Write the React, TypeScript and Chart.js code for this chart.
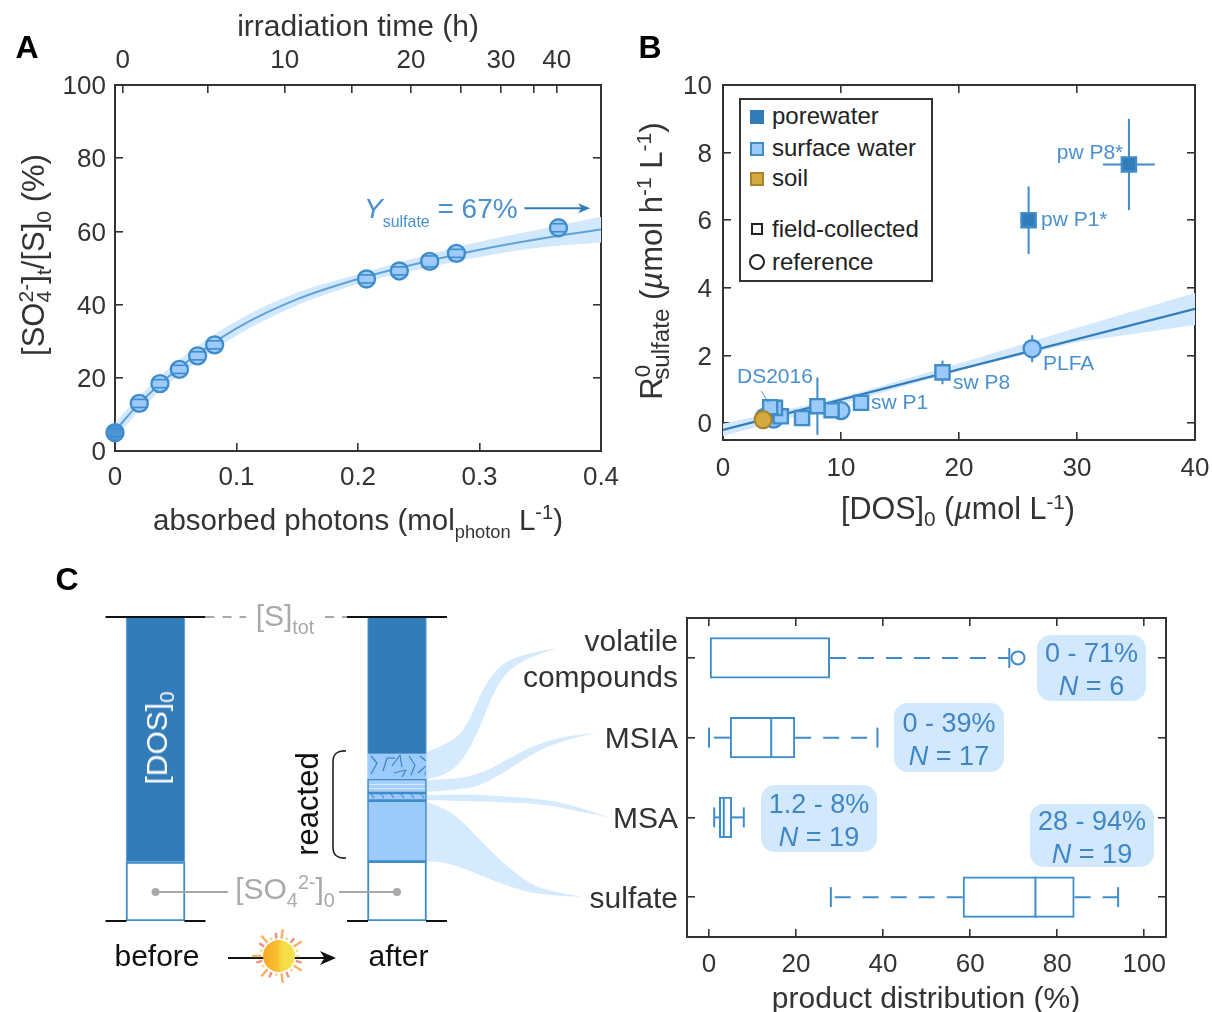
import React, { useEffect, useRef } from 'react';
import { Chart, registerables } from 'chart.js';

Chart.register(...registerables);

const FONT = '"Liberation Sans", Arial, sans-serif';
Chart.defaults.font.family = FONT;

// ---------- Panel A data
const photons = [0, 0.02, 0.037, 0.053, 0.068, 0.082, 0.207, 0.234, 0.259, 0.281, 0.365];
const sulfatePct = [5, 13, 18.4, 22.3, 26, 29, 47, 49.2, 51.8, 54, 61];
const sulfateErr = [1.1, 1.1, 1.1, 1.1, 1.1, 1.1, 1.1, 1.1, 1.5, 1.1, 1.1];
const fitPhotons = [0, 0.02, 0.05, 0.1, 0.15, 0.2, 0.25, 0.3, 0.35, 0.4];
const fitPct = [5.5, 13, 22, 33.5, 41.5, 47, 51.3, 55, 58, 60.5];
const fitPctUpper = [7.6, 15, 24.2, 35.5, 43.3, 48.3, 53, 57.2, 60.6, 64];
const fitPctLower = [3.4, 11, 20, 31.5, 39.8, 45.6, 49.6, 53, 55.6, 57];
const aXTicks = [0, 0.1, 0.2, 0.3, 0.4];
const aYTicks = [0, 20, 40, 60, 80, 100];
const timeTickPhotons = [0.0063, 0.0765, 0.1397, 0.1947, 0.2436, 0.2844, 0.3177, 0.3447, 0.3635];
const timeTickLabels = ['0', '', '10', '', '20', '', '30', '', '40'];

// ---------- Panel B data
const poreX = [34.4, 25.9];
const poreY = [7.65, 6.0];
const poreErrX = [2.2, 0.7];
const poreErrY = [1.35, 1.0];
const surfX = [18.6, 11.7, 9.2, 8, 6.7, 4.9, 4.4, 4];
const surfY = [1.5, 0.6, 0.38, 0.5, 0.15, 0.2, 0.45, 0.47];
const surfErrY = [0.35, 0, 0, 0.85, 0, 0, 0, 0];
const refX = [26.2, 10, 4.3, 3.5];
const refY = [2.2, 0.37, 0.12, 0.17];
const refErrY = [0.4, 0, 0, 0];
const soilX = [3.4];
const soilY = [0.1];
const lineX = [0, 40];
const lineY = [-0.2, 3.38];
const bandX = [0, 10, 20, 30, 40];
const bandUpper = [-0.02, 0.76, 1.76, 2.82, 3.85];
const bandLower = [-0.38, 0.56, 1.55, 2.4, 2.9];
const bXTicks = [0, 10, 20, 30, 40];
const bYTicks = [0, 2, 4, 6, 8, 10];

// ---------- Panel C data
const products = [['volatile', 'compounds'], 'MSIA', 'MSA', 'sulfate'];
const wLow = [0, 0, 1.2, 28];
const q1 = [0, 4.8, 2.3, 58.3];
const median = [0, 14.3, 3.4, 75];
const q3 = [27.8, 19.8, 5.3, 84];
const wHigh = [69, 38.7, 8, 94];
const outliers = [71, null, null, null];
const cXTicks = [0, 20, 40, 60, 80, 100];

const columns = ['before', 'after'];
const initialSulfate = [19.4, 19.6];
const productSulfate = [null, 20];
const productMSA = [null, 2.5];
const productMSIA = [null, 4.5];
const productVolatile = [null, 8.3];
const remainingDOS = [80.6, 45.1];

// ---------- Colours
const AX = '#333333';
const DARK = '#317cb9';
const MID = '#3f8ccb';
const LIGHT = '#9ccbfb';
const BAND = '#d2e8fd';
const FITLINE = '#5ea2d8';
const LABEL = '#4a90cf';
const GRAY = '#a9a9a9';
const GOLD = '#d4a93f';
const GOLDB = '#a98428';

const pts = (xs: number[], ys: number[]) => xs.map((x, i) => ({ x, y: ys[i] }));

const pin = (size: number) => (s: any) => {
  if (s.isHorizontal()) s.height = size;
  else s.width = size;
  s.paddingLeft = s.paddingRight = s.paddingTop = s.paddingBottom = 0;
};
const setTicks = (vals: number[]) => (s: any) => {
  s.ticks = vals.map((value) => ({ value }));
};

function axis(position: string, size: number, extra: any = {}) {
  const { ticks, grid, ...rest } = extra;
  return {
    position,
    afterFit: pin(size),
    border: { display: true, color: AX, width: 2 },
    grid: { drawOnChartArea: false, drawTicks: true, tickLength: -8, color: AX, lineWidth: 1.6, ...(grid || {}) },
    ticks: {
      color: AX,
      font: { size: 26 },
      maxRotation: 0,
      minRotation: 0,
      autoSkip: false,
      ...(ticks || {}),
    },
    ...rest,
  };
}

const errorBars = {
  id: 'errorBars',
  beforeDatasetDraw(chart: any, args: any) {
    const ds = chart.data.datasets[args.index];
    if (!ds.errX && !ds.errY) return;
    const { ctx, scales } = chart;
    ctx.save();
    ctx.strokeStyle = ds.errColor || MID;
    ctx.lineWidth = 2;
    ds.data.forEach((p: any, i: number) => {
      const x = scales.x.getPixelForValue(p.x);
      const y = scales.y.getPixelForValue(p.y);
      if (ds.errY && ds.errY[i]) {
        ctx.beginPath();
        ctx.moveTo(x, scales.y.getPixelForValue(p.y + ds.errY[i]));
        ctx.lineTo(x, scales.y.getPixelForValue(p.y - ds.errY[i]));
        ctx.stroke();
      }
      if (ds.errX && ds.errX[i]) {
        ctx.beginPath();
        ctx.moveTo(scales.x.getPixelForValue(p.x - ds.errX[i]), y);
        ctx.lineTo(scales.x.getPixelForValue(p.x + ds.errX[i]), y);
        ctx.stroke();
      }
    });
    ctx.restore();
  },
  afterDatasetDraw(chart: any, args: any) {
    const ds = chart.data.datasets[args.index];
    if (!ds.capY) return;
    const { ctx, scales } = chart;
    ctx.save();
    ctx.strokeStyle = MID;
    ctx.lineWidth = 1.6;
    ds.data.forEach((p: any, i: number) => {
      const x = scales.x.getPixelForValue(p.x);
      [p.y + ds.capY[i], p.y - ds.capY[i]].forEach((v) => {
        const y = scales.y.getPixelForValue(v);
        ctx.beginPath();
        ctx.moveTo(x - 8, y);
        ctx.lineTo(x + 8, y);
        ctx.stroke();
      });
    });
    ctx.restore();
  },
};

function arrowHead(ctx: any, x: number, y: number, len: number, half: number, color: string) {
  ctx.fillStyle = color;
  ctx.beginPath();
  ctx.moveTo(x, y);
  ctx.lineTo(x - len, y - half);
  ctx.lineTo(x - len * 0.72, y);
  ctx.lineTo(x - len, y + half);
  ctx.closePath();
  ctx.fill();
}

const aArrow = {
  id: 'aArrow',
  afterDatasetsDraw(chart: any) {
    const { ctx, scales } = chart;
    const x1 = scales.x.getPixelForValue(0.337);
    const x2 = scales.x.getPixelForValue(0.391);
    const y = scales.y.getPixelForValue(66.3);
    ctx.save();
    ctx.strokeStyle = DARK;
    ctx.lineWidth = 2;
    ctx.beginPath();
    ctx.moveTo(x1, y);
    ctx.lineTo(x2 - 6, y);
    ctx.stroke();
    arrowHead(ctx, x2, y, 12, 5, DARK);
    ctx.restore();
  },
};

const bLeader = {
  id: 'bLeader',
  afterDatasetsDraw(chart: any) {
    const { ctx, scales } = chart;
    ctx.save();
    ctx.strokeStyle = LABEL;
    ctx.lineWidth = 1;
    ctx.beginPath();
    ctx.moveTo(scales.x.getPixelForValue(3.25), scales.y.getPixelForValue(0.95));
    ctx.lineTo(scales.x.getPixelForValue(3.85), scales.y.getPixelForValue(0.6));
    ctx.stroke();
    ctx.restore();
  },
};

const boxWhiskers = {
  id: 'boxWhiskers',
  afterDatasetsDraw(chart: any) {
    const { ctx, scales } = chart;
    ctx.save();
    ctx.strokeStyle = MID;
    ctx.lineWidth = 2;
    products.forEach((_, i) => {
      const y = scales.y.getPixelForValue(i);
      const px = (v: number) => scales.x.getPixelForValue(v);
      const seg = (a: number, b: number) => {
        ctx.beginPath();
        ctx.moveTo(a, y);
        ctx.lineTo(b, y);
        ctx.stroke();
      };
      ctx.setLineDash([16, 12]);
      if (wLow[i] < q1[i]) seg(px(q1[i]), px(wLow[i]));
      seg(px(q3[i]), px(wHigh[i]));
      ctx.setLineDash([]);
      const cap = (v: number) => {
        ctx.beginPath();
        ctx.moveTo(px(v), y - 10);
        ctx.lineTo(px(v), y + 10);
        ctx.stroke();
      };
      if (wLow[i] < q1[i]) cap(wLow[i]);
      cap(wHigh[i]);
      if (median[i] > q1[i]) {
        const h = 20.5;
        ctx.beginPath();
        ctx.moveTo(px(median[i]), y - h);
        ctx.lineTo(px(median[i]), y + h);
        ctx.stroke();
      }
      const o = outliers[i];
      if (o != null) {
        ctx.beginPath();
        ctx.arc(px(o), y, 6.5, 0, Math.PI * 2);
        ctx.stroke();
      }
    });
    ctx.restore();
  },
};

function smoothPath(ctx: any, p: number[][], start: boolean) {
  if (start) ctx.moveTo(p[0][0], p[0][1]);
  else ctx.lineTo(p[0][0], p[0][1]);
  for (let i = 1; i < p.length - 1; i++) {
    const mx = (p[i][0] + p[i + 1][0]) / 2;
    const my = (p[i][1] + p[i + 1][1]) / 2;
    ctx.quadraticCurveTo(p[i][0], p[i][1], mx, my);
  }
  const l = p[p.length - 1];
  ctx.lineTo(l[0], l[1]);
}

const OFFY = 560;
const off = (p: number[][]) => p.map(([x, y]) => [x, y - OFFY]);
const streams = [
  {
    top: [[427, 752], [445, 745], [461, 734], [472, 715], [482, 690], [500, 664], [525, 654], [557, 648]],
    bottom: [[427, 779], [442, 776], [458, 766], [470, 748], [482, 722], [497, 684], [519, 660], [557, 648]],
  },
  {
    top: [[427, 780], [455, 779], [480, 774], [505, 761], [530, 747], [560, 737], [595, 733]],
    bottom: [[427, 792], [455, 790], [480, 786], [505, 772], [530, 755], [560, 741], [595, 733]],
  },
  {
    top: [[427, 795], [465, 794], [500, 796], [540, 799], [569, 804], [611, 818]],
    bottom: [[427, 800], [465, 801], [500, 802], [540, 804], [569, 809], [611, 818]],
  },
  {
    top: [[427, 802], [445, 808], [461, 820], [480, 840], [500, 860], [520, 877], [540, 889], [582, 897]],
    bottom: [[427, 861], [442, 862], [460, 867], [480, 875], [510, 887], [540, 895], [582, 897]],
  },
];

const barDecor = {
  id: 'barDecor',
  beforeDatasetsDraw(chart: any) {
    const { ctx } = chart;
    ctx.save();
    ctx.fillStyle = '#d6eafe';
    streams.forEach((s) => {
      ctx.beginPath();
      smoothPath(ctx, off(s.top), true);
      smoothPath(ctx, off([...s.bottom].reverse()), false);
      ctx.closePath();
      ctx.fill();
    });
    ctx.restore();
  },
  afterDatasetsDraw(chart: any) {
    const { ctx, scales } = chart;
    const yT = scales.y.getPixelForValue(100);
    const yB = scales.y.getPixelForValue(0);
    const cB = scales.x.getPixelForValue(0);
    const cA = scales.x.getPixelForValue(1);
    ctx.save();
    // limits
    ctx.strokeStyle = '#111';
    ctx.lineWidth = 2;
    [cB, cA].forEach((c) => {
      ctx.beginPath();
      ctx.moveTo(c - 50, yT);
      ctx.lineTo(c + 50, yT);
      ctx.moveTo(c - 50, yB);
      ctx.lineTo(c - 29, yB);
      ctx.moveTo(c + 29, yB);
      ctx.lineTo(c + 50, yB);
      ctx.stroke();
    });
    // dashed guide
    ctx.strokeStyle = GRAY;
    ctx.setLineDash([9, 8]);
    ctx.beginPath();
    ctx.moveTo(cB + 50, yT);
    ctx.lineTo(246, yT);
    ctx.moveTo(325, yT);
    ctx.lineTo(cA - 50, yT);
    ctx.stroke();
    ctx.setLineDash([]);
    // sulfate guide
    const yS = scales.y.getPixelForValue(9.5);
    ctx.lineWidth = 2;
    ctx.beginPath();
    ctx.moveTo(cB, yS);
    ctx.lineTo(228, yS);
    ctx.moveTo(339, yS);
    ctx.lineTo(cA, yS);
    ctx.stroke();
    ctx.fillStyle = GRAY;
    [cB, cA].forEach((c) => {
      ctx.beginPath();
      ctx.arc(c, yS, 4, 0, Math.PI * 2);
      ctx.fill();
    });
    // brace
    ctx.strokeStyle = '#222';
    ctx.lineWidth = 1.6;
    ctx.beginPath();
    const bx = 333;
    ctx.moveTo(bx + 13, 751 - OFFY);
    ctx.quadraticCurveTo(bx, 750 - OFFY, bx, 762 - OFFY);
    ctx.lineTo(bx, 847 - OFFY);
    ctx.quadraticCurveTo(bx, 859 - OFFY, bx + 13, 858 - OFFY);
    ctx.stroke();
    // process arrow
    const ay = 958 - OFFY;
    ctx.strokeStyle = '#111';
    ctx.lineWidth = 2;
    ctx.beginPath();
    ctx.moveTo(228, ay);
    ctx.lineTo(328, ay);
    ctx.stroke();
    arrowHead(ctx, 336, ay, 16, 7, '#111');
    // sun
    const sx = 279;
    const sy = 956 - OFFY;
    for (let i = 0; i < 22; i++) {
      const a = (i / 22) * Math.PI * 2;
      const r2 = 20 + (i % 3) * 3.5;
      ctx.strokeStyle = i % 3 === 1 ? '#ee8f86' : i % 3 === 2 ? '#f6b261' : '#f8d77a';
      ctx.lineWidth = 2.4;
      ctx.beginPath();
      ctx.moveTo(sx + Math.cos(a) * 17.5, sy + Math.sin(a) * 17.5);
      ctx.lineTo(sx + Math.cos(a) * r2, sy + Math.sin(a) * r2);
      ctx.stroke();
    }
    const g = ctx.createLinearGradient(sx - 16, sy, sx + 16, sy);
    g.addColorStop(0, '#f8a92a');
    g.addColorStop(0.45, '#f9bf30');
    g.addColorStop(0.6, '#f5dc45');
    g.addColorStop(1, '#f3e24f');
    ctx.fillStyle = g;
    ctx.beginPath();
    ctx.arc(sx, sy, 16, 0, Math.PI * 2);
    ctx.fill();
    ctx.restore();
  },
};

function makePattern(w: number, h: number, x0: number, y0: number, draw: (c: CanvasRenderingContext2D) => void) {
  const c = document.createElement('canvas');
  c.width = w;
  c.height = h;
  const g = c.getContext('2d') as CanvasRenderingContext2D;
  draw(g);
  const main = document.createElement('canvas').getContext('2d') as CanvasRenderingContext2D;
  const pat = main.createPattern(c, 'repeat') as CanvasPattern;
  pat.setTransform(new DOMMatrix().translate(x0, y0));
  return pat;
}

const Sub = ({ children, size = 0.68, top = 0.35, ml = 0 }: any) => (
  <span style={{ fontSize: `${size}em`, position: 'relative', top: `${top}em`, marginLeft: `${ml}em` }}>{children}</span>
);
const Sup = ({ children, size = 0.68, top = -0.5, ml = 0 }: any) => (
  <span style={{ fontSize: `${size}em`, position: 'relative', top: `${top}em`, marginLeft: `${ml}em` }}>{children}</span>
);

const T = ({ x, y, children, size = 30, color = AX, rot = 0, anchor = 'center', bold = false, align = 'center' }: any) => (
  <div
    style={{
      position: 'absolute',
      left: x,
      top: y,
      transform: `translate(${anchor === 'center' ? '-50%' : anchor === 'right' ? '-100%' : '0'},-50%) rotate(${rot}deg)`,
      fontFamily: FONT,
      fontSize: size,
      color,
      whiteSpace: 'nowrap',
      lineHeight: 1,
      fontWeight: bold ? 700 : 400,
      textAlign: align,
    }}
  >
    {children}
  </div>
);

const Callout = ({ x1, x2, y1, y2, a, b }: any) => (
  <div
    style={{
      position: 'absolute',
      left: x1,
      top: y1,
      width: x2 - x1,
      height: y2 - y1,
      boxSizing: 'border-box',
      paddingTop: 4,
      background: BAND,
      borderRadius: 14,
      color: '#3f86c4',
      fontFamily: FONT,
      fontSize: 27,
      textAlign: 'center',
      lineHeight: '33px',
      display: 'flex',
      flexDirection: 'column',
      justifyContent: 'center',
      whiteSpace: 'nowrap',
    }}
  >
    <div>{a}</div>
    <div>
      <i>N</i> = {b}
    </div>
  </div>
);

const Swatch = ({ y, fill, border, round = false, size = 13, w = 2 }: any) => (
  <div
    style={{
      position: 'absolute',
      left: 756.5 - size / 2,
      top: y - size / 2,
      width: size,
      height: size,
      boxSizing: 'border-box',
      background: fill,
      border: `${w}px solid ${border}`,
      borderRadius: round ? '50%' : 0,
    }}
  />
);

export default function App() {
  const a = useRef<HTMLCanvasElement>(null);
  const b = useRef<HTMLCanvasElement>(null);
  const c1 = useRef<HTMLCanvasElement>(null);
  const c2 = useRef<HTMLCanvasElement>(null);

  useEffect(() => {
    const base = {
      responsive: false,
      animation: false,
      devicePixelRatio: 1,
      events: [],
      plugins: { legend: { display: false }, tooltip: { enabled: false } },
    };

    const chartA = new Chart(a.current as any, {
      type: 'line',
      data: {
        datasets: [
          {
            data: pts(photons, sulfatePct),
            capY: sulfateErr,
            showLine: false,
            pointStyle: 'circle',
            pointRadius: 8.5,
            pointBackgroundColor: photons.map((_, i) => (i === 0 ? '#4a95d8' : LIGHT)),
            pointBorderColor: MID,
            pointBorderWidth: 2.4,
            clip: false,
          },
          { data: pts(fitPhotons, fitPct), borderColor: FITLINE, borderWidth: 2, pointRadius: 0, cubicInterpolationMode: 'monotone', fill: false },
          { data: pts(fitPhotons, fitPctUpper), borderWidth: 0, borderColor: 'transparent', pointRadius: 0, cubicInterpolationMode: 'monotone', fill: '+1', backgroundColor: BAND },
          { data: pts(fitPhotons, fitPctLower), borderWidth: 0, borderColor: 'transparent', pointRadius: 0, cubicInterpolationMode: 'monotone', fill: false },
        ],
      } as any,
      options: {
        ...base,
        layout: { padding: { right: 19 } },
        scales: {
          x: axis('bottom', 99, { type: 'linear', min: 0, max: 0.4, afterBuildTicks: setTicks(aXTicks), ticks: { padding: 19.5, callback: (v: any) => String(v) } }),
          x2: axis('top', 85, {
            type: 'linear',
            min: 0,
            max: 0.4,
            afterBuildTicks: setTicks(timeTickPhotons),
            ticks: { padding: 16.4, callback: (_: any, i: number) => timeTickLabels[i] },
          }),
          y: axis('left', 115, { type: 'linear', min: 0, max: 100, afterBuildTicks: setTicks(aYTicks), ticks: { padding: 17, labelOffset: 2, callback: (v: any) => String(v) } }),
          y2: axis('right', 0, { type: 'linear', min: 0, max: 100, afterBuildTicks: setTicks(aYTicks), ticks: { display: false } }),
        },
      } as any,
      plugins: [errorBars, aArrow] as any,
    });

    const square = (fill: string, border: string) => ({
      showLine: false,
      pointStyle: 'rect',
      pointRadius: 10,
      pointBackgroundColor: fill,
      pointBorderColor: border,
      pointBorderWidth: 2.4,
      clip: false,
    });
    const chartB = new Chart(b.current as any, {
      type: 'line',
      data: {
        datasets: [
          { data: pts(soilX, soilY), showLine: false, pointStyle: 'circle', pointRadius: 8.5, pointBackgroundColor: GOLD, pointBorderColor: GOLDB, pointBorderWidth: 2.2 },
          { data: pts(poreX, poreY), errX: poreErrX, errY: poreErrY, errColor: MID, ...square(DARK, MID) },
          { data: pts(surfX, surfY), errY: surfErrY, ...square(LIGHT, MID) },
          { data: pts(refX, refY), errY: refErrY, showLine: false, pointStyle: 'circle', pointRadius: 8.5, pointBackgroundColor: LIGHT, pointBorderColor: MID, pointBorderWidth: 2.4 },
          { data: pts(lineX, lineY), borderColor: DARK, borderWidth: 2.2, pointRadius: 0, fill: false },
          { data: pts(bandX, bandUpper), borderWidth: 0, borderColor: 'transparent', pointRadius: 0, fill: '+1', backgroundColor: BAND },
          { data: pts(bandX, bandLower), borderWidth: 0, borderColor: 'transparent', pointRadius: 0, fill: false },
        ],
      } as any,
      options: {
        ...base,
        layout: { padding: { right: 17 } },
        scales: {
          x: axis('bottom', 110, { type: 'linear', min: 0, max: 40, afterBuildTicks: setTicks(bXTicks), ticks: { padding: 21.4, callback: (v: any) => String(v) } }),
          x2: axis('top', 85, { type: 'linear', min: 0, max: 40, afterBuildTicks: setTicks(bXTicks), ticks: { display: false } }),
          y: axis('left', 103, { type: 'linear', min: -0.5, max: 10, afterBuildTicks: setTicks(bYTicks), ticks: { padding: 19, labelOffset: 2, callback: (v: any) => String(v) } }),
          y2: axis('right', 0, { type: 'linear', min: -0.5, max: 10, afterBuildTicks: setTicks(bYTicks), ticks: { display: false } }),
        },
      } as any,
      plugins: [errorBars, bLeader] as any,
    });

    const volatilePattern = makePattern(62, 27, 368, 192, (g) => {
      g.fillStyle = LIGHT;
      g.fillRect(0, 0, 62, 27);
      g.strokeStyle = '#3a84c4';
      g.lineWidth = 1.2;
      const segs = [
        [3, 4, 9, 11], [9, 11, 3, 22], [15, 19, 19, 6], [19, 6, 27, 6], [24, 14, 32, 3], [32, 3, 34, 15],
        [26, 21, 38, 18], [38, 18, 34, 25], [41, 4, 47, 13], [47, 13, 43, 23], [50, 21, 58, 14], [52, 4, 58, 9], [57, 23, 61, 11],
      ];
      segs.forEach(([x1, y1, x2, y2]) => {
        g.beginPath();
        g.moveTo(x1, y1);
        g.lineTo(x2, y2);
        g.stroke();
      });
    });
    const linesPattern = makePattern(8, 4, 368, 220, (g) => {
      g.fillStyle = '#a5cff8';
      g.fillRect(0, 0, 8, 4);
      g.fillStyle = '#d8e9fb';
      g.fillRect(0, 0, 8, 1);
    });
    const hatchPattern = makePattern(10, 8, 368, 232, (g) => {
      g.fillStyle = LIGHT;
      g.fillRect(0, 0, 10, 8);
      g.strokeStyle = '#3a84c4';
      g.lineWidth = 1.1;
      g.beginPath();
      g.moveTo(2, 1);
      g.lineTo(6, 6);
      g.stroke();
    });

    const seg = (data: any, backgroundColor: any, borderColor: string, borderWidth = 1.6) => ({
      data,
      backgroundColor,
      borderColor,
      borderWidth,
      borderSkipped: false,
      barThickness: 59,
      stack: 'S',
    });
    const chartC1 = new Chart(c1.current as any, {
      type: 'bar',
      data: {
        labels: columns,
        datasets: [
          seg(initialSulfate, '#ffffff', MID, 2),
          seg(productSulfate, LIGHT, MID),
          seg(productMSA, hatchPattern, MID),
          seg(productMSIA, linesPattern, MID),
          seg(productVolatile, volatilePattern, LIGHT, 1),
          seg(remainingDOS, DARK, '#7fb4e0', 1),
        ],
      } as any,
      options: {
        ...base,
        layout: { padding: { top: 57, right: 172.25 } },
        scales: {
          x: {
            position: 'bottom',
            stacked: true,
            afterFit: pin(91),
            border: { display: false },
            grid: { display: false },
            ticks: { color: '#111', font: { size: 30 }, padding: 10.5, labelOffset: 1.5, maxRotation: 0, minRotation: 0 },
          },
          y: {
            position: 'left',
            stacked: true,
            min: 0,
            max: 100,
            afterFit: pin(34.75),
            border: { display: false },
            grid: { display: false },
            ticks: { display: false },
          },
        },
      } as any,
      plugins: [barDecor] as any,
    });

    const chartC2 = new Chart(c2.current as any, {
      type: 'bar',
      data: {
        labels: products,
        datasets: [
          {
            data: q1.map((v, i) => [v, q3[i]]),
            backgroundColor: 'rgba(255,255,255,0)',
            borderColor: MID,
            borderWidth: 2,
            borderSkipped: false,
            barPercentage: 0.52,
            categoryPercentage: 1,
          },
        ],
      } as any,
      options: {
        ...base,
        indexAxis: 'y',
        layout: { padding: { right: 46 } },
        scales: {
          x: axis('bottom', 75, { type: 'linear', min: -5.05, max: 105, afterBuildTicks: setTicks(cXTicks), ticks: { padding: 20.4, callback: (v: any) => String(v) } }),
          x2: axis('top', 18, { type: 'linear', min: -5.05, max: 105, afterBuildTicks: setTicks(cXTicks), ticks: { display: false } }),
          y: axis('left', 207, { type: 'category', grid: { offset: false }, ticks: { padding: 17, labelOffset: 2.5, font: { size: 30, lineHeight: 1.2 } } }),
          y2: axis('right', 0, { type: 'category', labels: ['a', 'b', 'c', 'd'], offset: true, grid: { offset: false }, ticks: { display: false } }),
        },
      } as any,
      plugins: [boxWhiskers] as any,
    });

    return () => {
      chartA.destroy();
      chartB.destroy();
      chartC1.destroy();
      chartC2.destroy();
    };
  }, []);

  const cv = (left: number, top: number): React.CSSProperties => ({ position: 'absolute', left, top, display: 'block' });

  return (
    <div style={{ position: 'absolute', left: 0, top: 0, width: 1212, height: 1012, overflow: 'hidden', background: '#fff' }}>
      <canvas ref={c1} width={690} height={452} style={cv(0, 560)} />
      <canvas ref={c2} width={732} height={412} style={cv(480, 600)} />
      <canvas ref={a} width={620} height={550} style={cv(0, 0)} />
      <canvas ref={b} width={592} height={550} style={cv(620, 0)} />

      <T x={27} y={47} size={32} bold color="#000">A</T>
      <T x={650} y={47} size={32} bold color="#000">B</T>
      <T x={67} y={579} size={32} bold color="#000">C</T>

      {/* Panel A */}
      <T x={358} y={26} size={30}>irradiation time (h)</T>
      <T x={358} y={520} size={29.5}>
        absorbed photons (mol<Sub size={0.62} top={0.45}>photon</Sub> L<Sup top={-0.55}>-1</Sup>)
      </T>
      <T x={33} y={255} size={31} rot={-90}>
        [SO<Sub>4</Sub><Sup ml={-0.55}>2-</Sup>]<Sub>t</Sub>/[S]<Sub>0</Sub> (%)
      </T>
      <T x={364} y={209} size={28} anchor="left" color={LABEL}>
        <i>Y</i><Sub size={0.57} top={0.55}>sulfate</Sub> = 67%
      </T>

      {/* Panel B */}
      <T x={958} y={508} size={30.5}>
        [DOS]<Sub>0</Sub> (<i>µ</i>mol L<Sup>-1</Sup>)
      </T>
      <T x={651} y={261} size={31} rot={-90}>
        R<Sup size={0.72} top={-0.55}>0</Sup><Sub size={0.78} top={0.3} ml={-0.62}>sulfate</Sub> (<i>µ</i>mol h<Sup>-1</Sup> L<Sup>-1</Sup>)
      </T>
      <T x={1090} y={151} size={21} color={LABEL}>pw P8*</T>
      <T x={1041} y={218} size={21} anchor="left" color={LABEL}>pw P1*</T>
      <T x={1043} y={362} size={21} anchor="left" color={LABEL}>PLFA</T>
      <T x={953} y={381} size={21} anchor="left" color={LABEL}>sw P8</T>
      <T x={871} y={401} size={21} anchor="left" color={LABEL}>sw P1</T>
      <T x={737} y={375} size={21} anchor="left" color={LABEL}>DS2016</T>
      <div style={{ position: 'absolute', left: 739, top: 98, width: 194, height: 184, boxSizing: 'border-box', border: `2px solid ${AX}`, background: '#fff' }} />
      <Swatch y={117} fill={DARK} border={DARK} size={14} />
      <Swatch y={149} fill={LIGHT} border={MID} size={14} />
      <Swatch y={179} fill={GOLD} border={GOLDB} size={14} />
      <Swatch y={229} fill="#fff" border="#222" size={12} />
      <Swatch y={262} fill="#fff" border="#222" size={16} round />
      <T x={772} y={116} size={24} anchor="left" color="#222">porewater</T>
      <T x={772} y={148} size={24} anchor="left" color="#222">surface water</T>
      <T x={772} y={178} size={24} anchor="left" color="#222">soil</T>
      <T x={772} y={229} size={24} anchor="left" color="#222">field-collected</T>
      <T x={772} y={262} size={24} anchor="left" color="#222">reference</T>

      {/* Panel C left */}
      <T x={285} y={616} size={30} color={GRAY}>
        [S]<Sub size={0.66} top={0.4}>tot</Sub>
      </T>
      <T x={285} y={889} size={30} color={GRAY}>
        [SO<Sub size={0.66} top={0.4}>4</Sub><Sup size={0.66}>2-</Sup>]<Sub size={0.66} top={0.4}>0</Sub>
      </T>
      <T x={157} y={738} size={30} rot={-90} color="#ffffff">
        [DOS]<Sub>0</Sub>
      </T>
      <T x={307} y={804} size={31} rot={-90} color="#111">reacted</T>

      {/* Panel C right */}
      <T x={926} y={998} size={30}>product distribution (%)</T>
      <Callout x1={1037} x2={1146} y1={635} y2={701} a="0 - 71%" b="6" />
      <Callout x1={894} x2={1004} y1={703} y2={772} a="0 - 39%" b="17" />
      <Callout x1={761} x2={877} y1={785} y2={852} a="1.2 - 8%" b="19" />
      <Callout x1={1030} x2={1154} y1={804} y2={867} a="28 - 94%" b="19" />
    </div>
  );
}
